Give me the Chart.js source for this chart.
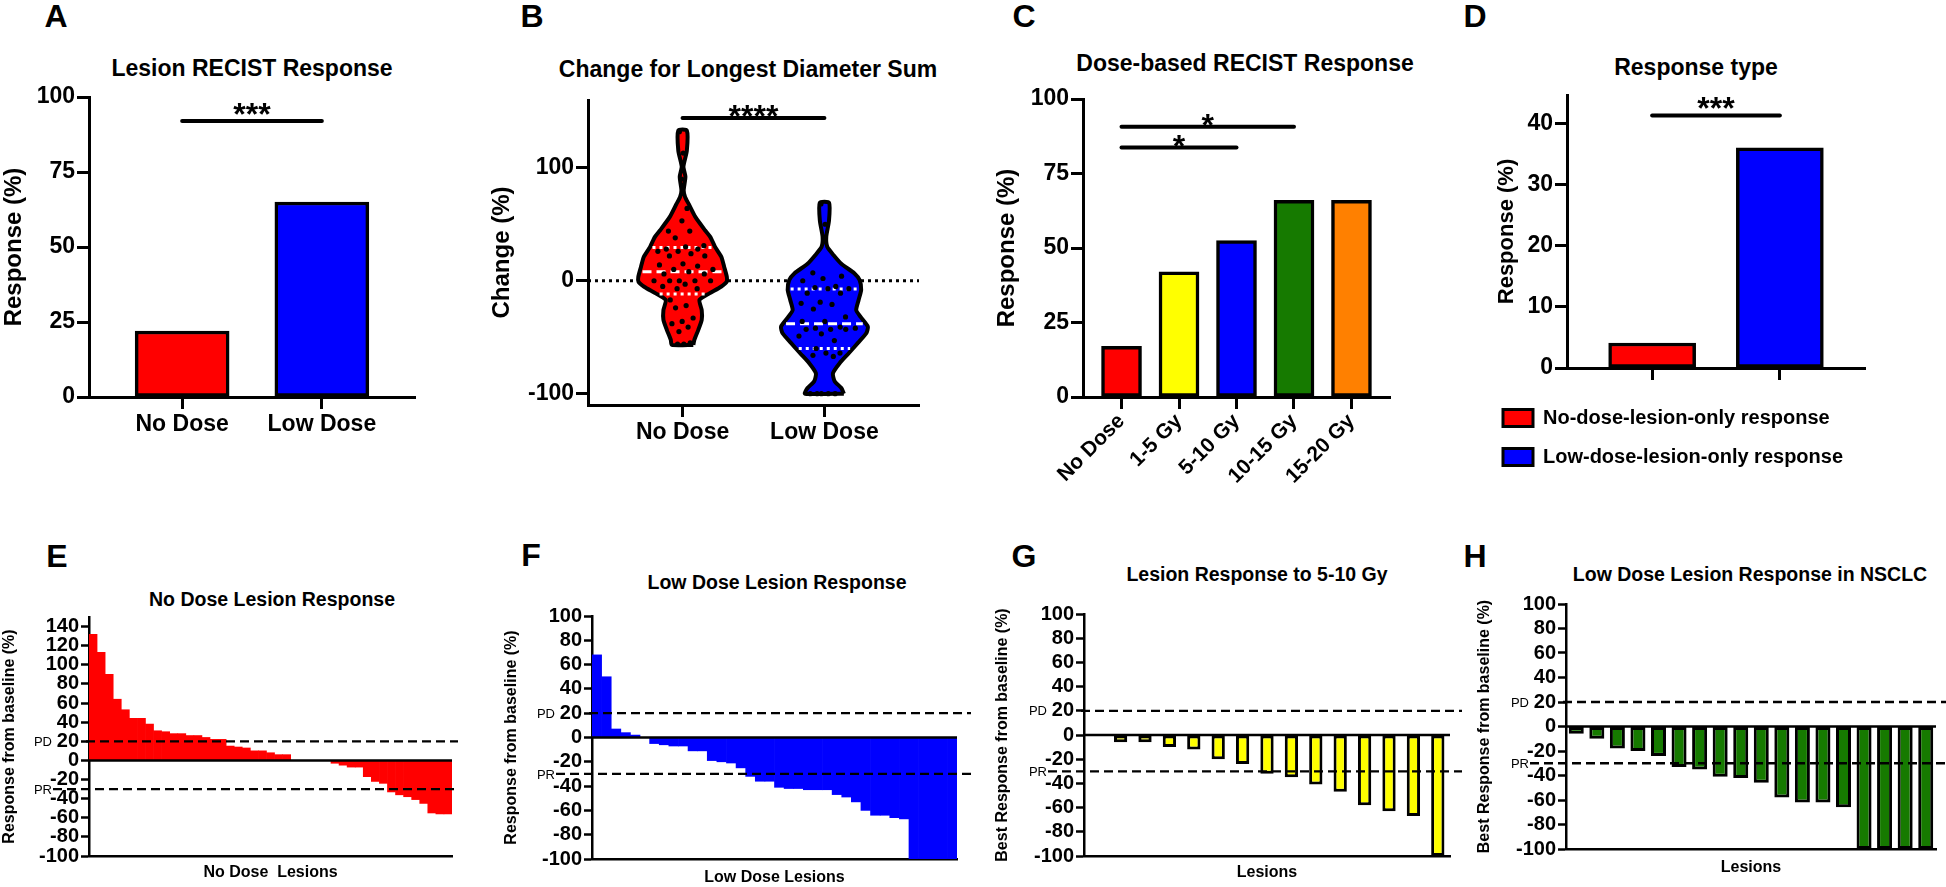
<!DOCTYPE html>
<html>
<head>
<meta charset="utf-8">
<script src="https://cdn.jsdelivr.net/npm/chart.js@4.4.1/dist/chart.umd.min.js"></script>
<style>
  body { margin: 0; background: #fff; }
  #fig { position: relative; width: 1946px; height: 887px; overflow: hidden; background: #fff;
         font-family: "Liberation Sans", Arial, Helvetica, sans-serif; }
  .lbl { position: absolute; transform: translate(-50%, -50%); line-height: 1; white-space: nowrap;
         font-weight: bold; color: #000; }
  .letter { font-size: 32px; }
  .title { font-size: 23px; }
  .stitle { font-size: 19.5px; }
  canvas { position: absolute; }
</style>
</head>
<body>
<div id="fig">
  <div class="lbl letter" style="left:56px;top:16px">A</div>
  <div class="lbl letter" style="left:532px;top:16px">B</div>
  <div class="lbl letter" style="left:1024px;top:16px">C</div>
  <div class="lbl letter" style="left:1475px;top:16px">D</div>
  <div class="lbl letter" style="left:57px;top:556px">E</div>
  <div class="lbl letter" style="left:531px;top:555px">F</div>
  <div class="lbl letter" style="left:1024px;top:556px">G</div>
  <div class="lbl letter" style="left:1475px;top:556px">H</div>

  <div class="lbl title" style="left:252px;top:68px">Lesion RECIST Response</div>
  <div class="lbl title" style="left:748px;top:69px">Change for Longest Diameter Sum</div>
  <div class="lbl title" style="left:1245px;top:63px">Dose-based RECIST Response</div>
  <div class="lbl title" style="left:1696px;top:67px">Response type</div>
  <div class="lbl stitle" style="left:272px;top:600px">No Dose Lesion Response</div>
  <div class="lbl stitle" style="left:777px;top:583px">Low Dose Lesion Response</div>
  <div class="lbl stitle" style="left:1257px;top:575px">Lesion Response to 5-10 Gy</div>
  <div class="lbl stitle" style="left:1750px;top:575px">Low Dose Lesion Response in NSCLC</div>
</div>
<script>
// ---- data ----
const groupLabels = ['No Dose', 'Low Dose'];
const groupColors = ['#ff0000', '#0000ff'];
const recistResponse = [22, 65];

const doseLabels = ['No Dose', '1-5 Gy', '5-10 Gy', '10-15 Gy', '15-20 Gy'];
const doseColors = ['#ff0000', '#ffff00', '#0000ff', '#167a00', '#ff8000'];
const doseResponse = [17, 42, 52.5, 66, 66];

const typeLabels = ['No-dose-lesion-only response', 'Low-dose-lesion-only response'];
const typeResponse = [4.1, 36.1];

// per-lesion change (%), sorted as in the waterfalls
const noDoseChange = [132, 113, 90, 64, 53, 44, 44, 38, 31, 30, 28, 28, 26, 26, 24, 22, 22, 15, 14, 13,
  10, 10, 8, 6, 6, 0, 0, 0, 0, 0, -3, -5, -7, -7, -17, -22, -24, -33, -36, -38, -41, -45, -55, -56, -56];
const lowDoseChange = [68, 50, 7, 4, 2, 0, -5, -6, -7, -7, -11, -11, -19, -20, -21, -25, -32, -36, -36, -41,
  -42, -42, -43, -43, -43, -47, -49, -53, -60, -64, -64, -66, -67, -100, -100, -100, -100, -100];
const dose5to10Change = [0, -6, -6, -10, -12, -20, -24, -32, -35, -41, -47, -58, -63, -67, -100];
const nsclcChange = [-6, -10, -18, -20, -24, -33, -35, -41, -42, -46, -58, -62, -62, -66, -100, -100, -100, -100];

// violin density outlines (value levels and half widths)
const noDoseViolinY = [-56.8, -52.4, -43.5, -34.7, -26, -17, -11.2, -5.3, -0.9, 3.5, 12.4, 21.2, 30, 38.8, 44.7, 56.5, 68, 74, 80, 92, 101, 115, 133];
const noDoseViolinW = [0.076, 0.083, 0.111, 0.135, 0.135, 0.119, 0.189, 0.271, 0.311, 0.312, 0.293, 0.273, 0.229, 0.195, 0.158, 0.090, 0.043, 0.018, 0.008, 0.020, 0.006, 0.030, 0.030];
const lowDoseViolinY = [-100, -95, -89, -82, -73, -64, -55, -46.5, -40.6, -32, -26, -17, -8, 0.6, 6.5, 15, 22.6, 30, 39, 53, 69];
const lowDoseViolinW = [0.137, 0.119, 0.072, 0.060, 0.107, 0.173, 0.236, 0.295, 0.306, 0.255, 0.224, 0.241, 0.259, 0.248, 0.212, 0.119, 0.065, 0.020, 0.013, 0.032, 0.033];
const noDoseQuartiles = [-11.8, 8, 29.4];
const lowDoseQuartiles = [-60, -38, -7.4];

// significance bars: [from, to, value, label]
const sigA = [[1, 2, 92, '***']];
const sigB = [[1, 2, 144, '****']];
const sigC = [[0, 2, 83.7, '*'], [0, 3, 90.7, '*']];
const sigD = [[1, 2, 41.4, '***']];

const refValues = [20, -30];
const refLabels = ['PD', 'PR'];

// tick values
const ticksB = [-100, 0, 100];
const ticksD = [0, 10, 20, 30, 40];
const ticksE = [-100, -80, -60, -40, -20, 0, 20, 40, 60, 80, 100, 120, 140];
const ticksWaterfall = [-100, -80, -60, -40, -20, 0, 20, 40, 60, 80, 100];

// ---- setup ----
const FONT = '"Liberation Sans", Arial, Helvetica, sans-serif';
Chart.defaults.font.family = FONT;
Chart.defaults.color = '#000';
Chart.defaults.animation = false;
Chart.defaults.responsive = false;
Chart.defaults.plugins.legend.display = false;
Chart.defaults.plugins.tooltip.enabled = false;

function makeCanvas(id, left, top, width, height) {
  const c = document.createElement('canvas');
  c.id = id;
  c.width = width; c.height = height;
  c.style.left = left + 'px'; c.style.top = top + 'px';
  c.style.width = width + 'px'; c.style.height = height + 'px';
  document.getElementById('fig').appendChild(c);
  return c.getContext('2d');
}

function yScale(o) {
  const s = {
    type: 'linear', position: 'left', min: o.min, max: o.max,
    ticks: { stepSize: o.step, autoSkip: false, padding: o.tickPad, font: { size: o.tickSize, weight: 'bold' }, color: '#000' },
    border: { display: true, color: '#000', width: o.line },
    grid: { display: true, drawOnChartArea: false, drawTicks: true, tickLength: o.tickLen, tickColor: '#000', tickWidth: o.line },
    title: { display: true, text: o.title, color: '#000', font: { size: o.titleSize, weight: 'bold' }, padding: { top: o.titlePad, bottom: 0 } },
    afterFit: sc => { sc.width = o.width; }
  };
  if (o.ticks) s.afterBuildTicks = sc => { sc.ticks = o.ticks.map(v => ({ value: v })); };
  return s;
}

function xGroups(o) {
  return {
    type: 'linear', position: 'bottom', min: o.min, max: o.max, offset: false,
    afterBuildTicks: sc => { sc.ticks = o.labels.map((_, i) => ({ value: i + o.first })); },
    ticks: {
      autoSkip: false, padding: o.tickPad, color: '#000', font: { size: o.tickSize, weight: 'bold' },
      maxRotation: o.rot, minRotation: o.rot,
      callback: v => o.hideLabels ? '' : o.labels[v - o.first]
    },
    border: { display: true, color: '#000', width: 3 },
    grid: { display: true, offset: false, drawOnChartArea: false, drawTicks: true, tickLength: 12, tickColor: '#000', tickWidth: 3 },
    afterFit: sc => { sc.height = o.height; }
  };
}

function xLesions(values, o) {
  return {
    type: 'category', labels: values.map(() => ''), position: 'bottom',
    ticks: { display: false },
    grid: { display: false },
    border: { display: true, color: '#000', width: 2.5 },
    title: { display: true, text: o.title, color: '#000', font: { size: 16, weight: 'bold' }, padding: { top: 0, bottom: o.titlePad } },
    afterFit: sc => { sc.height = o.height; }
  };
}

const sigPlugin = {
  id: 'sig',
  afterDatasetsDraw(chart, args, opts) {
    const { ctx } = chart;
    const xs = chart.scales.x, ys = chart.scales.y;
    const size = 32;
    (opts.items || []).forEach(([a, b, v, text]) => {
      const x1 = xs.getPixelForValue(a), x2 = xs.getPixelForValue(b), py = ys.getPixelForValue(v);
      ctx.save();
      ctx.strokeStyle = '#000';
      ctx.lineWidth = 4;
      ctx.lineCap = 'round';
      ctx.beginPath(); ctx.moveTo(x1, py); ctx.lineTo(x2, py); ctx.stroke();
      ctx.fillStyle = '#000';
      ctx.font = 'bold ' + size + 'px ' + FONT;
      ctx.textAlign = 'center';
      ctx.textBaseline = 'alphabetic';
      ctx.fillText(text, (x1 + x2) / 2, py - opts.gap + 0.39 * size);
      ctx.restore();
    });
  }
};

const refPlugin = {
  id: 'ref',
  afterDatasetsDraw(chart, args, opts) {
    const { ctx, chartArea } = chart;
    const ys = chart.scales.y;
    ctx.save();
    ctx.strokeStyle = '#000';
    ctx.lineWidth = 2.5;
    const y0 = ys.getPixelForValue(0);
    ctx.beginPath(); ctx.moveTo(chartArea.left, y0); ctx.lineTo(chartArea.right, y0); ctx.stroke();
    ctx.fillStyle = '#000';
    ctx.font = '13px ' + FONT;
    ctx.textAlign = 'right';
    ctx.textBaseline = 'middle';
    refValues.forEach((v, i) => {
      const py = ys.getPixelForValue(v);
      const labelRight = chartArea.left - 37;
      const start = v % 20 === 0 ? chartArea.left - 3 : labelRight + 1;
      ctx.setLineDash([9, 5]);
      ctx.lineWidth = 2.3;
      ctx.beginPath(); ctx.moveTo(start, py); ctx.lineTo(chartArea.right + opts.extend, py); ctx.stroke();
      ctx.setLineDash([]);
      ctx.fillText(refLabels[i], labelRight, py + 1);
    });
    ctx.restore();
  }
};

// ---- A: lesion RECIST response ----
new Chart(makeCanvas('chartA', 0, 80, 440, 380), {
  type: 'bar',
  data: { datasets: [{
    data: recistResponse.map((v, i) => ({ x: i + 1, y: v })),
    backgroundColor: groupColors, borderColor: '#000', borderWidth: 3.5, borderSkipped: false, barThickness: 94
  }] },
  options: {
    layout: { padding: { left: 0, top: 17, right: 25, bottom: 0 } },
    scales: {
      x: xGroups({ min: 1 / 3, max: 2 + 2 / 3, first: 1, labels: groupLabels, tickSize: 23, tickPad: 2, rot: 0, height: 63 }),
      y: yScale({ min: 0, max: 100, step: 25, tickSize: 23, tickPad: 2, tickLen: 12, line: 3, width: 89,
                  title: 'Response (%)', titleSize: 24, titlePad: 0 })
    },
    plugins: { sig: { items: sigA, gap: 8 } }
  },
  plugins: [sigPlugin]
});

// ---- B: violin of change in longest diameter sum ----
function halfAt(ys, ws, v) {
  if (v <= ys[0]) return ws[0];
  for (let i = 1; i < ys.length; i++) {
    if (v <= ys[i]) {
      const t = (v - ys[i - 1]) / (ys[i] - ys[i - 1]);
      return ws[i - 1] + t * (ws[i] - ws[i - 1]);
    }
  }
  return ws[ws.length - 1];
}
function violinOutline(c, ys, ws) {
  const right = ys.map((y, i) => ({ x: c + ws[i], y }));
  const left = ys.map((y, i) => ({ x: c - ws[i], y })).reverse();
  const pts = right.concat(left);
  pts.push(pts[0]);
  return pts;
}
function jitterPoints(c, values, ys, ws) {
  return values.map((v, i) => {
    const j = ((i * 0.618034) % 1) * 2 - 1;
    return { x: c + j * 0.75 * halfAt(ys, ws, v), y: v };
  });
}
function acrossLine(c, ys, ws, v) {
  const w = Math.max(halfAt(ys, ws, v) - 0.02, 0);
  return [{ x: c - w, y: v }, { x: c + w, y: v }];
}
function quartileSets(c, ys, ws, q) {
  return q.map((v, k) => ({
    data: acrossLine(c, ys, ws, v), showLine: true, pointRadius: 0,
    borderColor: '#fff', borderWidth: 3, borderDash: k === 1 ? [9, 5] : [3, 4]
  }));
}

new Chart(makeCanvas('chartB', 470, 80, 470, 380), {
  type: 'scatter',
  data: { datasets: [
    { data: jitterPoints(1, noDoseChange, noDoseViolinY, noDoseViolinW), pointRadius: 2.6, pointBorderWidth: 0, pointBackgroundColor: '#000' },
    { data: jitterPoints(2, lowDoseChange, lowDoseViolinY, lowDoseViolinW), pointRadius: 2.6, pointBorderWidth: 0, pointBackgroundColor: '#000' },
    ...quartileSets(1, noDoseViolinY, noDoseViolinW, noDoseQuartiles),
    ...quartileSets(2, lowDoseViolinY, lowDoseViolinW, lowDoseQuartiles),
    { data: violinOutline(1, noDoseViolinY, noDoseViolinW), showLine: true, fill: 'shape', tension: 0.2, pointRadius: 0,
      backgroundColor: groupColors[0], borderColor: '#000', borderWidth: 4 },
    { data: violinOutline(2, lowDoseViolinY, lowDoseViolinW), showLine: true, fill: 'shape', tension: 0.2, pointRadius: 0,
      backgroundColor: groupColors[1], borderColor: '#000', borderWidth: 4 },
    { data: [{ x: 1 / 3, y: 0 }, { x: 2 + 2 / 3, y: 0 }], showLine: true, pointRadius: 0,
      borderColor: '#000', borderWidth: 3, borderDash: [3, 4] }
  ] },
  options: {
    layout: { padding: { left: 0, top: 20, right: 21, bottom: 0 } },
    scales: {
      x: xGroups({ min: 1 / 3, max: 2 + 2 / 3, first: 1, labels: groupLabels, tickSize: 23, tickPad: 2, rot: 0, height: 55 }),
      y: yScale({ min: -110, max: 160, ticks: ticksB, tickSize: 23, tickPad: 2, tickLen: 12, line: 3, width: 118,
                  title: 'Change (%)', titleSize: 24, titlePad: 17.6 })
    },
    plugins: { sig: { items: sigB, gap: 4 } }
  },
  plugins: [sigPlugin]
});

// ---- C: dose-based RECIST response ----
new Chart(makeCanvas('chartC', 950, 80, 496, 410), {
  type: 'bar',
  data: { datasets: [{
    data: doseResponse.map((v, i) => ({ x: i, y: v })),
    backgroundColor: doseColors, borderColor: '#000', borderWidth: 3.5, borderSkipped: false, barThickness: 40
  }] },
  options: {
    layout: { padding: { left: 0, top: 19, right: 56, bottom: 0 } },
    scales: {
      x: xGroups({ min: -0.67, max: 4.67, first: 0, labels: doseLabels, tickSize: 21, tickPad: 0, rot: 45, height: 93 }),
      y: yScale({ min: 0, max: 100, step: 25, tickSize: 23, tickPad: 2, tickLen: 12, line: 3, width: 133,
                  title: 'Response (%)', titleSize: 24, titlePad: 42.6 })
    },
    plugins: { sig: { items: sigC, gap: 3.5 } }
  },
  plugins: [sigPlugin]
});

// ---- D: response type ----
new Chart(makeCanvas('chartD', 1450, 78, 496, 399), {
  type: 'bar',
  data: { datasets: [{
    data: typeResponse.map((v, i) => ({ x: i + 1, y: v })),
    backgroundColor: groupColors, borderColor: '#000', borderWidth: 3.5, borderSkipped: false, barThickness: 87
  }] },
  options: {
    layout: { padding: { left: 34, top: 17, right: 81, bottom: 0 } },
    scales: {
      x: xGroups({ min: 1 / 3, max: 2 + 2 / 3, first: 1, labels: typeLabels, hideLabels: true, tickSize: 20, tickPad: 0, rot: 0, height: 21 }),
      y: yScale({ min: 0, max: 44.75, ticks: ticksD, tickSize: 23, tickPad: 2, tickLen: 12, line: 3, width: 83,
                  title: 'Response (%)', titleSize: 22, titlePad: 9.8 })
    },
    plugins: {
      sig: { items: sigD, gap: 9 },
      legend: {
        display: true, position: 'bottom', align: 'start',
        labels: {
          boxWidth: 30, boxHeight: 17, padding: 19, color: '#000', font: { size: 20, weight: 'bold' },
          generateLabels: () => typeLabels.map((t, i) => ({
            text: t, fillStyle: groupColors[i], strokeStyle: '#000', lineWidth: 3, hidden: false, index: i, fontColor: '#000'
          }))
        }
      }
    }
  },
  plugins: [sigPlugin]
});

// ---- E-H: waterfalls ----
function waterfall(ctx, values, o) {
  return new Chart(ctx, {
    type: 'bar',
    data: {
      labels: values.map(() => ''),
      datasets: [{
        data: values, backgroundColor: o.color,
        borderColor: '#000', borderWidth: o.border, borderSkipped: false,
        barPercentage: o.barPct, categoryPercentage: 1
      }]
    },
    options: {
      layout: { padding: o.pad },
      scales: {
        x: xLesions(values, { title: o.xTitle, height: o.xH, titlePad: o.xTitlePad }),
        y: yScale({ min: -100, max: o.yMax, ticks: o.ticks, tickSize: 20, tickPad: 2, tickLen: 8, line: 2.5, width: o.yW,
                    title: o.yTitle, titleSize: 16, titlePad: o.yTitlePad })
      },
      plugins: { ref: { extend: o.extend } }
    },
    plugins: [refPlugin]
  });
}

waterfall(makeCanvas('chartE', 0, 600, 470, 287), noDoseChange, {
  color: '#ff0000', border: 0, barPct: 1, pad: { left: 0, top: 17, right: 18, bottom: 0 },
  yMax: 150, ticks: ticksE, yW: 89, yTitle: 'Response from baseline (%)', yTitlePad: 0.4,
  xTitle: 'No Dose  Lesions', xH: 31, xTitlePad: 4.4, extend: 6
});
waterfall(makeCanvas('chartF', 480, 600, 492, 287), lowDoseChange, {
  color: '#0000ff', border: 0, barPct: 1, pad: { left: 0, top: 16, right: 15, bottom: 0 },
  yMax: 100, ticks: ticksWaterfall, yW: 112, yTitle: 'Response from baseline (%)', yTitlePad: 22.4,
  xTitle: 'Low Dose Lesions', xH: 28, xTitlePad: 0, extend: 14
});
waterfall(makeCanvas('chartG', 985, 600, 480, 287), dose5to10Change, {
  color: '#ffff00', border: 3, barPct: 0.545, pad: { left: 0, top: 13, right: 15, bottom: 0 },
  yMax: 100, ticks: ticksWaterfall, yW: 99, yTitle: 'Best Response from baseline (%)', yTitlePad: 8.4,
  xTitle: 'Lesions', xH: 31, xTitlePad: 4.4, extend: 12
});
waterfall(makeCanvas('chartH', 1470, 590, 476, 297), nsclcChange, {
  color: '#167a00', border: 3, barPct: 0.73, pad: { left: 0, top: 14, right: 10, bottom: 0 },
  yMax: 100, ticks: ticksWaterfall, yW: 96, yTitle: 'Best Response from baseline (%)', yTitlePad: 5.4,
  xTitle: 'Lesions', xH: 38, xTitlePad: 9.4, extend: 10
});
</script>
</body>
</html>
